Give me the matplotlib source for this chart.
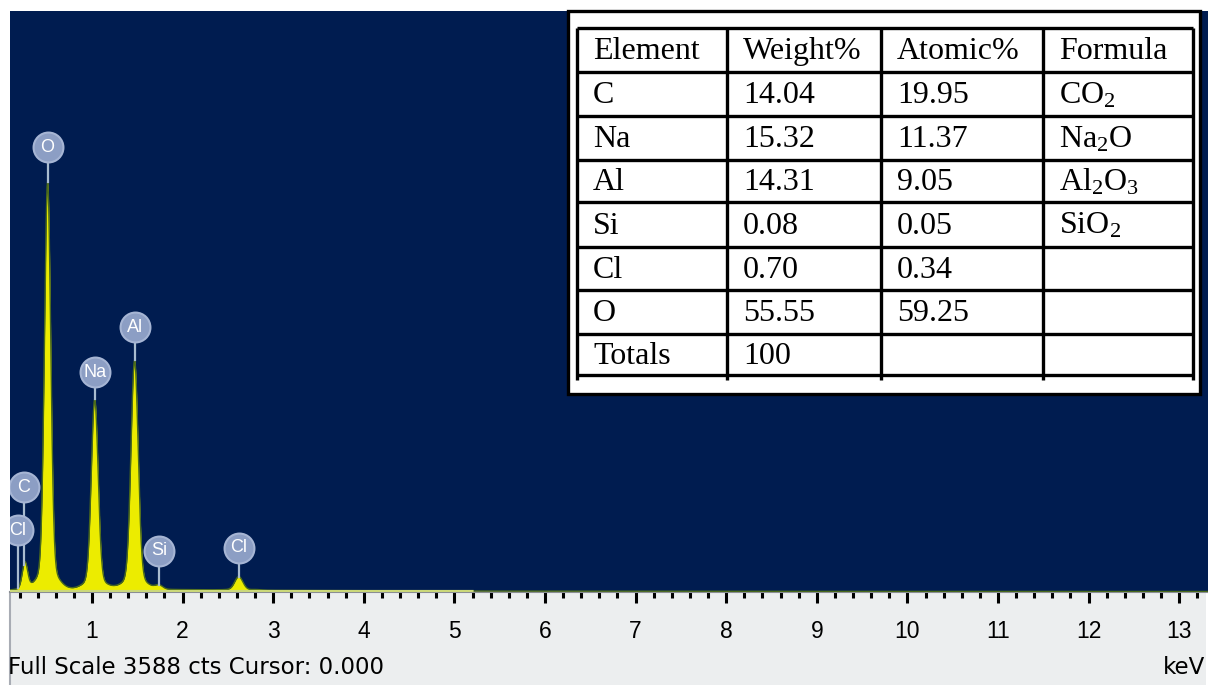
import numpy as np
import matplotlib
matplotlib.use("Agg")
import matplotlib.pyplot as plt
from matplotlib.patches import Rectangle
from matplotlib.ticker import FixedLocator, MultipleLocator

W, H, DPI = 1208, 685, 100

# ---- EDS spectrum: characteristic lines (keV), apex counts, line width (keV)
peak_labels = ["C", "O", "Na", "Al", "Si", "Cl", "Cl"]
peak_energy = [0.26, 0.51, 1.03, 1.47, 1.74, 2.62, 2.82]
peak_counts = [180, 2530, 1190, 1430, 40, 95, 14]
peak_sigma = [0.029, 0.034, 0.037, 0.039, 0.040, 0.044, 0.044]

# continuum under the lines
bg_energy = [0.10, 0.50, 1.00, 2.00, 3.00, 5.00, 8.00, 13.4]
bg_counts = [12, 16, 18, 15, 10, 6, 4, 3]

full_scale = 3588
cursor_kev = 0.000
tick_values = list(range(1, 14))

# ---- quantification table
table_header = ["Element", "Weight%", "Atomic%", "Formula"]
table_element = ["C", "Na", "Al", "Si", "Cl", "O", "Totals"]
weight_pct = ["14.04", "15.32", "14.31", "0.08", "0.70", "55.55", "100"]
atomic_pct = ["19.95", "11.37", "9.05", "0.05", "0.34", "59.25", ""]
formula = [r"CO$_2$", r"Na$_2$O", r"Al$_2$O$_3$", r"SiO$_2$", "", "", ""]

# ---- styling
NAVY = "#001c50"
PANEL = "#eceeef"
YELLOW = "#ecec00"
EDGE = "#4a6a1c"
BADGE = "#8c9ec4"
SANS = ["Liberation Sans", "DejaVu Sans"]
SERIF = ["Liberation Serif", "DejaVu Serif"]

plt.rcParams["mathtext.fontset"] = "custom"
plt.rcParams["mathtext.rm"] = "Liberation Serif"
plt.rcParams["mathtext.it"] = "Liberation Serif"
plt.rcParams["mathtext.default"] = "rm"

fig = plt.figure(figsize=(W / DPI, H / DPI), dpi=DPI, facecolor="white")


def fx(x):
    return x / W


def fy(y):
    return 1 - y / H


# background layer: light panel beneath the energy axis
bg = fig.add_axes([0, 0, 1, 1], zorder=0)
bg.set_xlim(0, W)
bg.set_ylim(H, 0)
bg.axis("off")
bg.add_patch(Rectangle((10, 592), W - 12, H - 592, facecolor=PANEL, edgecolor="none"))
bg.plot([10, 10], [592, H], color="#a8acb4", lw=1.5)

# spectrum axes
x_left, x_right = 10, W
y_top, y_base = 11, 592
ax = fig.add_axes([fx(x_left), fy(y_base), (x_right - x_left) / W, (y_base - y_top) / H],
                  zorder=1)
ax.set_facecolor(NAVY)
kev_per_px = 1 / 90.6
e_min = (x_left - 1.4) * kev_per_px
e_max = (x_right - 1.4) * kev_per_px
ax.set_xlim(e_min, e_max)
ax.set_ylim(0, full_scale)

# line shape: gaussian core plus a weak broad foot, scaled so the apex
# (including continuum) reaches the listed counts
TAIL, TAIL_W = 0.06, 3.0
energy = np.linspace(e_min, e_max, 6000)
continuum = np.interp(energy, bg_energy, bg_counts)
counts = continuum.copy()
for e0, c0, s0 in zip(peak_energy, peak_counts, peak_sigma):
    amp = (c0 - np.interp(e0, bg_energy, bg_counts)) / (1 + TAIL)
    counts = counts + amp * np.exp(-0.5 * ((energy - e0) / s0) ** 2)
    counts = counts + TAIL * amp * np.exp(-0.5 * ((energy - e0) / (TAIL_W * s0)) ** 2)

ax.fill_between(energy, 0, counts, color=YELLOW, lw=0, zorder=2)
ax.plot(energy, counts, color=EDGE, lw=1.0, zorder=3)
ax.plot(energy[energy < 5.2], np.full((energy < 5.2).sum(), 6), color="#cbd87a",
        lw=1.6, zorder=3)

# element badges (text, energy, height of badge above the curve in px)
cts_per_px = full_scale / (y_base - y_top)
badges = [("O", 0.51, 35), ("Al", 1.47, 33), ("Na", 1.03, 27), ("Si", 1.74, 34),
          ("Cl", 2.62, 29), ("C", 0.245, 78), ("Cl", 0.18, 58)]
for name, e, off in badges:
    top = np.interp(e, energy, counts)
    yb = top + off * cts_per_px
    ax.plot([e, e], [top, yb], color="#a9bcd0", lw=1.6, zorder=4, clip_on=True)
    ax.plot([e], [yb], marker="o", markersize=21.5, markerfacecolor=BADGE,
            markeredgecolor="#a6b5d4", markeredgewidth=1.5, zorder=5, clip_on=True)
    ax.text(e, yb, name, ha="center", va="center", color="white", fontsize=13,
            family=SANS, zorder=6, clip_on=True)

# energy axis
for side in ("top", "left", "right"):
    ax.spines[side].set_visible(False)
ax.spines["bottom"].set_color("#8a8e94")
ax.spines["bottom"].set_linewidth(1.5)
ax.xaxis.set_major_locator(FixedLocator(tick_values))
ax.xaxis.set_minor_locator(MultipleLocator(0.2))
ax.set_xticklabels([str(v) for v in tick_values], family=SANS, fontsize=16.5)
ax.tick_params(axis="x", which="major", length=8, width=2.2, color="black",
               pad=12, direction="out")
ax.tick_params(axis="x", which="minor", length=4, width=2.2, color="black",
               direction="out")
ax.set_yticks([])

fig.text(fx(8), fy(668), f"Full Scale {full_scale} cts Cursor: {cursor_kev:.3f}",
         ha="left", va="center", fontsize=16.5, family=["DejaVu Sans"], color="black")
fig.text(fx(1205), fy(668), "keV", ha="right", va="center", fontsize=16.5,
         family=["DejaVu Sans"], color="black")

# quantification table overlay
ov = fig.add_axes([0, 0, 1, 1], zorder=3)
ov.set_xlim(0, W)
ov.set_ylim(H, 0)
ov.axis("off")
ov.patch.set_alpha(0)
ov.add_patch(Rectangle((568, 11), 632, 383, facecolor="white", edgecolor="black", lw=2.4))

col_x = [577, 727, 881, 1043, 1193]
row_y = [28, 72, 116, 160, 202, 247, 290, 334, 375]
lw_grid = 2.4
for x in col_x:
    ov.plot([x, x], [row_y[0], row_y[-1] + 5], color="black", lw=lw_grid,
            solid_capstyle="butt")
for y in row_y:
    ov.plot([col_x[0], col_x[-1]], [y, y], color="black", lw=lw_grid,
            solid_capstyle="butt")

rows = [table_header] + [list(r) for r in zip(table_element, weight_pct, atomic_pct, formula)]
for i, row in enumerate(rows):
    yc = (row_y[i] + row_y[i + 1]) / 2
    for j, txt in enumerate(row):
        if txt:
            ov.text(col_x[j] + 16, yc + 1.5, txt, ha="left", va="center",
                    family=SERIF, fontsize=23, color="black")

fig.savefig("out.png", dpi=DPI, facecolor="white")
